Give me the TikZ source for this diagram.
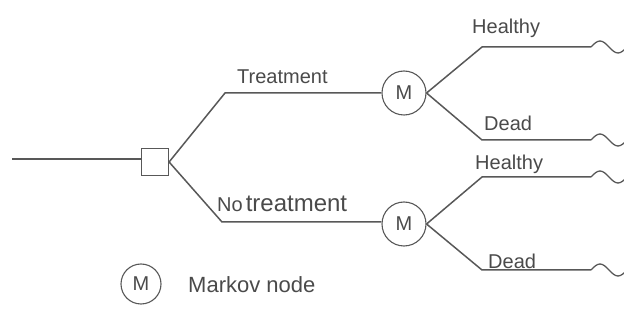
\documentclass[tikz,border=0pt]{standalone}
\usepackage{fontspec}
\setmainfont{Liberation Sans}
\definecolor{ln}{HTML}{585858}
\definecolor{tx}{HTML}{4A4A4A}
\begin{document}
\begin{tikzpicture}[x=1pt,y=-1pt,
  branch/.style={draw=ln,line width=1.5pt,line join=round},
  decbox/.style={draw=ln,line width=1.2pt,rectangle,minimum size=27pt,inner sep=0pt,fill=white},
  markov/.style={draw=ln,line width=1.1pt,circle,minimum size=44pt,inner sep=0pt,text=tx,font=\fontsize{20}{22}\selectfont},
  lbl/.style={text=tx,inner sep=0pt,font=\fontsize{20}{24}\selectfont}]
\useasboundingbox (0,0) rectangle (624,320);
% nodes
\coordinate (start) at (12,159);
\node[decbox] (dec) at (155,162) {};
\coordinate (t1) at (225,93);
\coordinate (t2) at (222,222);
\node[markov] (m1) at (404,93) {M};
\node[markov] (m2) at (404,224) {M};
\coordinate (h1a) at (482,47);
\coordinate (h1b) at (591,47);
\coordinate (d1a) at (482,140);
\coordinate (d1b) at (591,140);
\coordinate (h2a) at (482,177);
\coordinate (h2b) at (591,177);
\coordinate (d2a) at (482,270);
\coordinate (d2b) at (591,270);
% connectors
\draw[branch] (start) -- (dec.west |- start);
\draw[branch] (dec.east) -- (t1) -- (m1.west);
\draw[branch] (dec.east) -- (t2) -- (m2.west |- t2);
\draw[branch] (m1.east) -- (h1a) -- (h1b);
\draw[branch] (m1.east) -- (d1a) -- (d1b);
\draw[branch] (m2.east) -- (h2a) -- (h2b);
\draw[branch] (m2.east) -- (d2a) -- (d2b);
\foreach \c in {h1b,d1b,h2b,d2b}{
  \draw[draw=ln,line width=1.3pt] (\c) sin ++(9,-6) cos ++(9,6) sin ++(9,6) cos ++(9,-6);
}
% labels
\node[lbl,anchor=west] (lt) at (237,77) {Treatment};
\node[lbl,anchor=base west] (lnt) at (217,212) {{\fontsize{20}{22}\selectfont No}\hspace{3pt}{\fontsize{24}{26}\selectfont treatment}};
\node[lbl,anchor=west] (lh1) at (472,28) {Healthy};
\node[lbl,anchor=west] (ld1) at (484,123) {Dead};
\node[lbl,anchor=west] (lh2) at (475,164) {Healthy};
\node[lbl,anchor=west] (ld2) at (488,261) {Dead};
% legend
\node[markov,minimum size=40pt] (leg) at (141,284) {M};
\node[lbl,anchor=west,font=\fontsize{22}{24}\selectfont] (legt) at (188,285) {Markov node};
\end{tikzpicture}
\end{document}
